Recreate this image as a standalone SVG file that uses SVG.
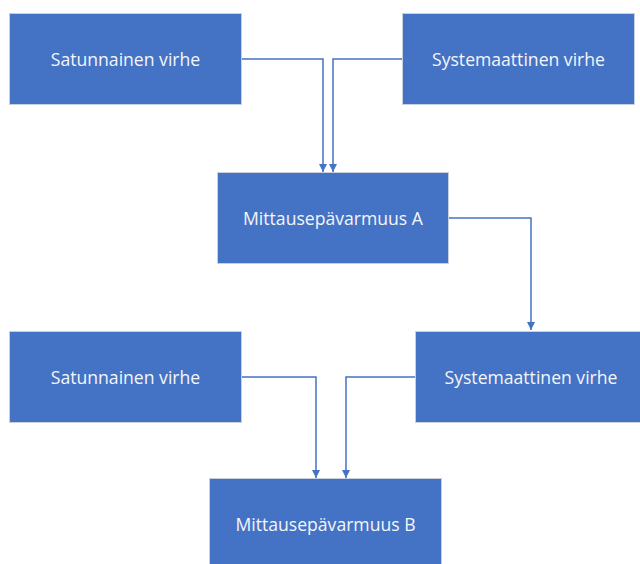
<svg xmlns="http://www.w3.org/2000/svg" width="640" height="564" viewBox="0 0 640 564">
<style>
.box{fill:#4472C4;stroke:#c8d0dc;stroke-width:1}
.lbl{fill:#f4f6fa;font-family:"Open Sans","Noto Sans",sans-serif;font-size:17.6px;font-weight:500;text-anchor:middle;dominant-baseline:central}
.con{fill:none;stroke:#4472C4;stroke-width:1.5}
</style>
<defs>
<marker id="ah" viewBox="0 0 10 10" refX="10" refY="5" markerWidth="8" markerHeight="8" markerUnits="userSpaceOnUse" orient="auto">
<path d="M0,0 L10,5 L0,10 z" fill="#4472C4"/>
</marker>
</defs>
<rect width="640" height="564" fill="#ffffff"/>
<g id="connectors">
<path class="con" d="M242,59 H323 V172" marker-end="url(#ah)"/>
<path class="con" d="M402,59 H333 V172" marker-end="url(#ah)"/>
<path class="con" d="M449,218 H531 V330" marker-end="url(#ah)"/>
<path class="con" d="M242,377 H316 V478" marker-end="url(#ah)"/>
<path class="con" d="M415,377 H346 V478" marker-end="url(#ah)"/>
</g>
<g id="satunnainen1"><rect class="box" x="9.5" y="13.5" width="232" height="91"/><text class="lbl" x="125.5" y="59">Satunnainen virhe</text></g>
<g id="systemaattinen1"><rect class="box" x="402.5" y="13.5" width="232" height="91"/><text class="lbl" x="518.5" y="59">Systemaattinen virhe</text></g>
<g id="mittausA"><rect class="box" x="217.5" y="172.5" width="231" height="91"/><text class="lbl" x="333" y="218">Mittausepävarmuus A</text></g>
<g id="satunnainen2"><rect class="box" x="9.5" y="331.5" width="232" height="91"/><text class="lbl" x="125.5" y="377">Satunnainen virhe</text></g>
<g id="systemaattinen2"><rect class="box" x="415.5" y="331.5" width="232" height="91"/><text class="lbl" x="531" y="377">Systemaattinen virhe</text></g>
<g id="mittausB"><rect class="box" x="209.5" y="478.5" width="232" height="91"/><text class="lbl" x="325.5" y="524">Mittausepävarmuus B</text></g>
</svg>
